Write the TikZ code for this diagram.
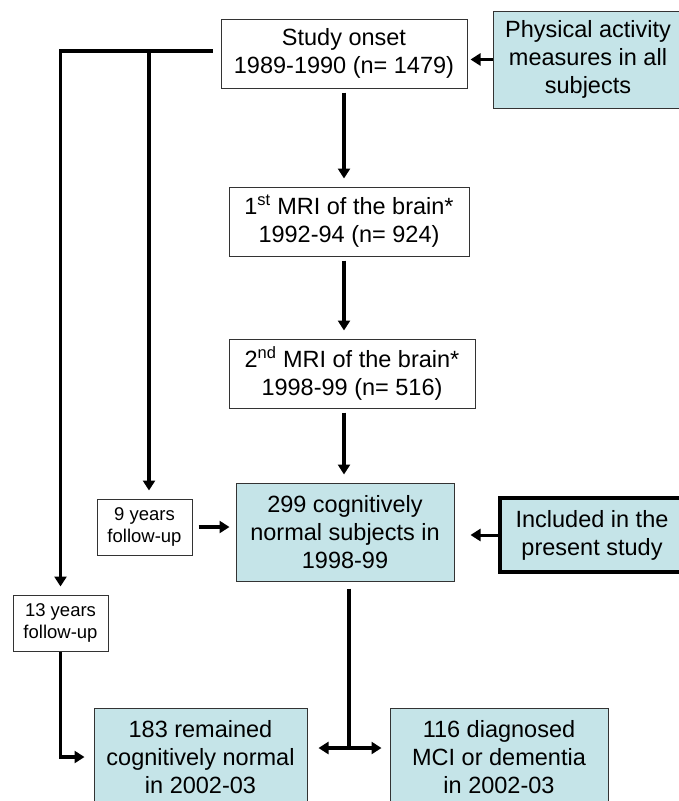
\documentclass[tikz,border=0pt]{standalone}
\usepackage{fontspec}
\setmainfont{Liberation Sans}
\usetikzlibrary{arrows.meta, positioning, calc}
\definecolor{boxblue}{RGB}{197,228,232}

\begin{document}
\begin{tikzpicture}[
    x=1pt, y=-1pt,
    font=\fontsize{23.5}{28}\selectfont,
    >={Triangle[width=12pt, length=10pt]},
    plain/.style={draw=black!80, line width=1pt, fill=white, align=center, inner sep=0pt},
    shaded/.style={plain, fill=boxblue},
    small/.style={plain, font=\fontsize{18.5}{22}\selectfont, minimum width=95pt, minimum height=56pt},
    arrow/.style={->, line width=3.5pt},
    link/.style={line width=3.5pt}
]
\useasboundingbox (0,0) rectangle (679,801);
\clip (0,0) rectangle (679,801);

% main column
\node[plain, minimum width=246pt, minimum height=69pt] (onset) at (344,53.5) {Study onset\\1989-1990 (n= 1479)};
\node[shaded, minimum width=190pt, minimum height=97pt] (activity) at (588,59.5) {Physical activity\\measures in all\\subjects};
\node[plain, minimum width=240pt, minimum height=69pt] (mri1) at (349,221.5) {1\textsuperscript{st} MRI of the brain*\\1992-94 (n= 924)};
\node[plain, minimum width=246pt, minimum height=69pt] (mri2) at (352,373.5) {2\textsuperscript{nd} MRI of the brain*\\1998-99 (n= 516)};
\node[shaded, minimum width=218pt, minimum height=98pt] (normal) at (345,532) {299 cognitively\\normal subjects in\\1998-99};
\node[shaded, draw=black, line width=4pt, minimum width=184pt, minimum height=74pt] (included) at (592,535) {Included in the\\present study};

% follow-up
\node[small] (nine) at (144.5,527) {9 years\\follow-up};
\node[small] (thirteen) at (60.5,623) {13 years\\follow-up};

% outcome
\node[shaded, minimum width=213pt, minimum height=98pt] (remained) at (200.5,757) {183 remained\\cognitively normal\\in 2002-03};
\node[shaded, minimum width=218pt, minimum height=98pt] (diagnosed) at (499,757) {116 diagnosed\\MCI or dementia\\in 2002-03};
\coordinate (branch) at (149,51);
\coordinate (fork) at (349,748);

\draw[arrow, line width=3pt, shorten >=3pt] (activity.west) -- (activity.west -| onset.east);
\draw[arrow, shorten <=4pt, shorten >=8pt] (onset.south) -- (onset.south |- mri1.north);
\draw[arrow, shorten <=4pt, shorten >=8pt] (onset.south |- mri1.south) -- (onset.south |- mri2.north);
\draw[arrow, shorten <=4pt, shorten >=8pt] (onset.south |- mri2.south) -- (onset.south |- normal.north);
\draw[arrow, shorten >=8pt] ([xshift=-8pt]onset.west |- branch) -| (thirteen.north);
\draw[arrow, shorten >=8pt] (branch) -- (branch |- nine.north);
\draw[arrow, shorten <=6pt, shorten >=6pt] (nine.east) -- (nine.east -| normal.west);
\draw[arrow, line width=3pt, shorten >=16pt] (included.west) -- (included.west -| normal.east);
\draw[link, shorten <=7pt] (fork |- normal.south) -- (fork);
\draw[<->, link, shorten <=11pt, shorten >=8pt] (remained.east |- fork) -- (diagnosed.west |- fork);
\draw[arrow, shorten >=9pt] (thirteen.south) |- (remained.west);

\end{tikzpicture}
\end{document}
